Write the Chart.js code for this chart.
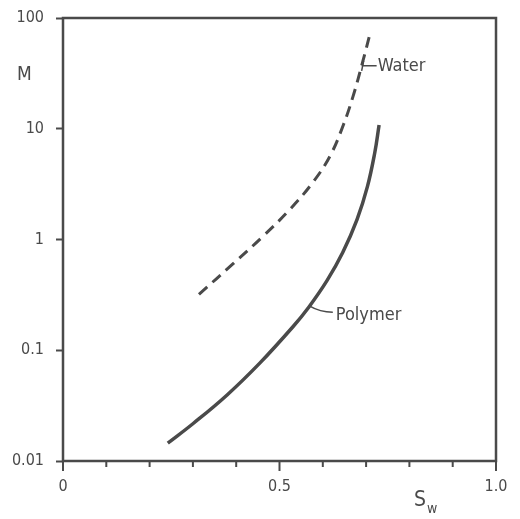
<!DOCTYPE html>
<html>
<head>
<meta charset="utf-8">
<script src="https://cdn.jsdelivr.net/npm/chart.js@4/dist/chart.umd.min.js"></script>
<style>
  html, body { margin: 0; padding: 0; background: #fff; }
  #wrap { width: 520px; height: 519px; }
</style>
</head>
<body>
<div id="wrap"><canvas id="chart"></canvas></div>
<script>
// Data
const waterSw = [0.314, 0.393, 0.462, 0.524, 0.577, 0.617, 0.647, 0.670, 0.693, 0.709];
const waterM = [0.32, 0.605, 1.07, 1.87, 3.28, 5.7, 10.7, 19.7, 41.4, 72];
const polymerSw = [0.242, 0.300, 0.379, 0.455, 0.531, 0.568, 0.610, 0.646, 0.679, 0.703, 0.720, 0.730];
const polymerM = [0.0145, 0.0217, 0.0395, 0.0769, 0.163, 0.246, 0.427, 0.762, 1.51, 3.0, 6.07, 10.8];
const yTicks = [0.01, 0.1, 1, 10, 100];
const xLabels = { 0: '0', 0.5: '0.5', 1: '1.0' };

const ink = '#4a4a4a';
const font = "'DejaVu Sans Condensed', 'DejaVu Sans', sans-serif";

const toPoints = (xs, ys) => xs.map((x, i) => ({ x: x, y: ys[i] }));

// frame, minor ticks and text annotations
const decor = {
    id: 'decor',
    afterDraw(chart) {
        const { ctx, chartArea: a, scales } = chart;
        const xs = scales.x, ys = scales.y;
        ctx.save();
        ctx.strokeStyle = ink;
        ctx.lineWidth = 2.5;
        ctx.strokeRect(a.left, a.top, a.right - a.left, a.bottom - a.top);

        // x ticks: long on labelled values, short between
        ctx.lineWidth = 2;
        for (let i = 0; i <= 10; i++) {
            const v = i / 10;
            const px = xs.getPixelForValue(v);
            const len = (i % 5 === 0) ? 10 : 6;
            ctx.beginPath();
            ctx.moveTo(px, a.bottom);
            ctx.lineTo(px, a.bottom + len);
            ctx.stroke();
        }

        ctx.fillStyle = ink;
        ctx.textBaseline = 'middle';
        ctx.font = '19px ' + font;
        ctx.fillText('M', 17, 75);
        ctx.font = '21px ' + font;
        ctx.fillText('S', 414, 501);
        ctx.font = '14px ' + font;
        ctx.fillText('w', 427, 509);

        // curve labels with leader lines
        ctx.font = '18px ' + font;
        ctx.lineWidth = 1.5;
        let px = xs.getPixelForValue(0.692), py = ys.getPixelForValue(37);
        ctx.beginPath();
        ctx.moveTo(px - 1, py);
        ctx.lineTo(px + 14, py);
        ctx.moveTo(px + 1, py - 5);
        ctx.lineTo(px - 1, py + 5);
        ctx.stroke();
        ctx.fillText('Water', px + 15, py + 1);

        px = xs.getPixelForValue(0.57); py = ys.getPixelForValue(0.25);
        ctx.beginPath();
        ctx.moveTo(px, py);
        ctx.quadraticCurveTo(px + 10, py + 6, px + 23, py + 6);
        ctx.stroke();
        ctx.fillText('Polymer', px + 26, py + 9);
        ctx.restore();
    }
};

new Chart(document.getElementById('chart'), {
    type: 'scatter',
    data: {
        datasets: [
            {
                label: 'Water',
                data: toPoints(waterSw, waterM),
                showLine: true,
                borderColor: ink,
                borderWidth: 3,
                borderDash: [11, 7],
                pointRadius: 0,
                tension: 0.4
            },
            {
                label: 'Polymer',
                data: toPoints(polymerSw, polymerM),
                showLine: true,
                borderColor: ink,
                borderWidth: 3.5,
                pointRadius: 0,
                tension: 0.4
            }
        ]
    },
    options: {
        responsive: true,
        maintainAspectRatio: false,
        animation: false,
        layout: { padding: { top: 18, right: 24, left: 0, bottom: 0 } },
        plugins: { legend: { display: false }, tooltip: { enabled: false } },
        scales: {
            x: {
                type: 'linear',
                min: 0,
                max: 1,
                afterFit: s => { s.height = 58; s.paddingLeft = 0; s.paddingRight = 0; },
                afterBuildTicks: s => { s.ticks = [0, 0.5, 1].map(v => ({ value: v })); },
                grid: { display: false, drawTicks: false },
                border: { display: false },
                ticks: {
                    padding: 16,
                    color: ink,
                    font: { family: font, size: 16 },
                    callback: v => xLabels[v] ?? ''
                }
            },
            y: {
                type: 'logarithmic',
                min: 0.01,
                max: 100,
                afterFit: s => { s.width = 63; s.paddingTop = 0; s.paddingBottom = 0; },
                afterBuildTicks: s => { s.ticks = yTicks.map(v => ({ value: v })); },
                grid: { drawOnChartArea: false, tickLength: 7, tickWidth: 2, tickColor: ink },
                border: { display: false },
                ticks: {
                    padding: 12,
                    color: ink,
                    font: { family: font, size: 16 },
                    callback: v => String(v)
                }
            }
        }
    },
    plugins: [decor]
});
</script>
</body>
</html>
